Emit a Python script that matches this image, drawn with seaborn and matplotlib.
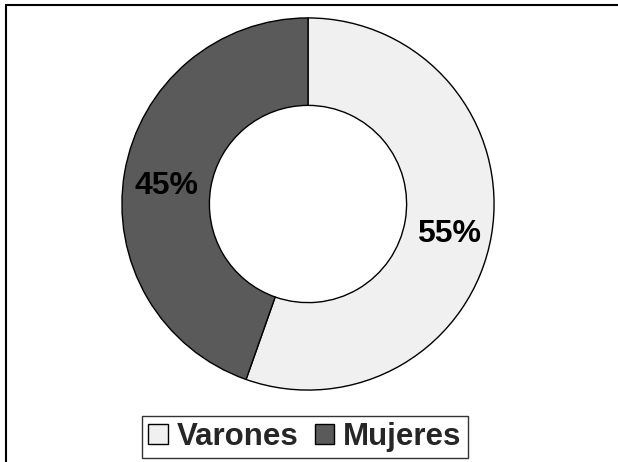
import matplotlib
matplotlib.use("Agg")
import matplotlib.pyplot as plt
import matplotlib.transforms as mtransforms
from matplotlib.lines import Line2D
import seaborn as sns

# datos
categorias = ["Varones", "Mujeres"]
porcentajes = [55.4, 44.6]
colores = ["#f0f0f0", "#5a5a5a"]

sns.set_theme(style="white")
plt.rcParams['font.family'] = ['Liberation Sans', 'DejaVu Sans']

fig = plt.figure(figsize=(6.18, 4.62), dpi=100)
fig.patch.set_facecolor("white")

# eje cuadrado para la dona
ax = fig.add_axes([121 / 618, 71 / 462, 374 / 618, 374 / 462])
wedges, textos, autotextos = ax.pie(
    porcentajes,
    colors=colores,
    startangle=90,
    counterclock=False,
    autopct=lambda p: f"{p:.0f}%",
    pctdistance=0.77,
    wedgeprops=dict(width=0.47, edgecolor="black", linewidth=1.0),
    textprops=dict(fontsize=23, fontweight="bold", color="black"),
)
# bajar un poco las etiquetas
for t in autotextos:
    t.set_transform(mtransforms.offset_copy(ax.transData, fig=fig, x=0, y=-6, units="dots"))
ax.set_xlim(-1.005, 1.005)
ax.set_ylim(-1.005, 1.005)
ax.set_aspect("equal")
ax.axis("off")

# leyenda
leg = fig.legend(
    wedges, categorias,
    loc="center", bbox_to_anchor=(305 / 618, 1 - 437 / 462),
    ncol=2, frameon=True, fancybox=False, shadow=False,
    prop=dict(size=22.5, weight="bold"),
    handlelength=0.62, handleheight=0.62, handletextpad=0.3,
    columnspacing=0.5, borderpad=0.2, borderaxespad=0,
)
leg.get_frame().set_edgecolor("black")
leg.get_frame().set_linewidth(1.0)

# borde de la figura (solo arriba e izquierda visibles)
fig.add_artist(Line2D([6 / 618, 1], [1 - 5 / 462, 1 - 5 / 462],
                      transform=fig.transFigure, color="black", linewidth=1.5))
fig.add_artist(Line2D([6 / 618, 6 / 618], [0, 1 - 5 / 462],
                      transform=fig.transFigure, color="black", linewidth=1.5))

fig.savefig("out.png", dpi=100)
